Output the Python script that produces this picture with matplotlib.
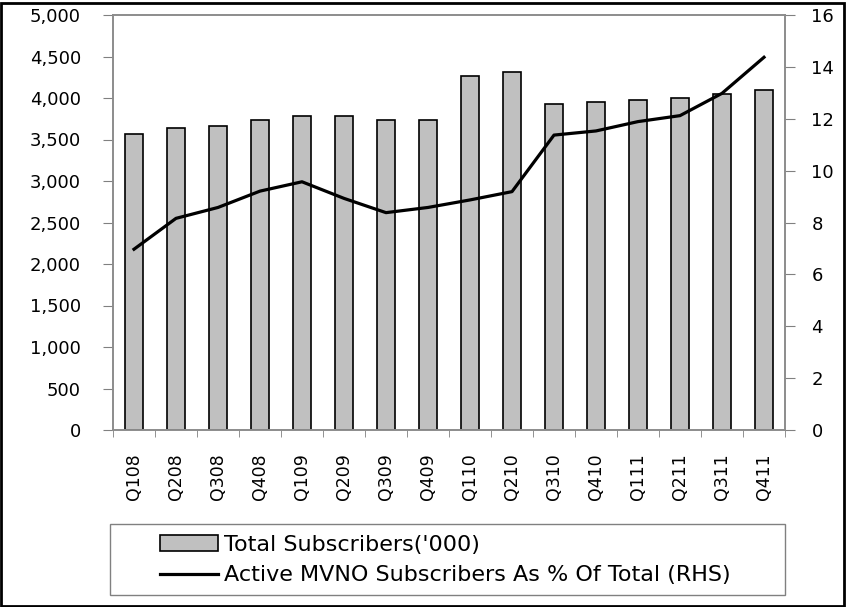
import numpy as np
import matplotlib.pyplot as plt
from matplotlib.patches import Rectangle
from matplotlib.ticker import FuncFormatter

plt.rcParams['font.family'] = ['DejaVu Sans']

quarters = ['Q108', 'Q208', 'Q308', 'Q408', 'Q109', 'Q209', 'Q309', 'Q409',
            'Q110', 'Q210', 'Q310', 'Q410', 'Q111', 'Q211', 'Q311', 'Q411']
total_subs = [3563, 3642, 3663, 3735, 3779, 3779, 3735, 3735,
              4265, 4313, 3924, 3956, 3980, 4000, 4048, 4093]
mvno_pct = [6.97, 8.16, 8.58, 9.21, 9.57, 8.93, 8.38, 8.58,
            8.87, 9.19, 11.37, 11.53, 11.89, 12.12, 12.98, 14.37]

fig = plt.figure(figsize=(8.46, 6.07), dpi=100)
W, H = 846, 607
ax = fig.add_axes([113 / W, 1 - 430 / H, (785 - 113) / W, (430 - 15) / H])
ax2 = ax.twinx()

x = np.arange(len(quarters))
bars = ax.bar(x, total_subs, width=0.45, color='#c0c0c0', edgecolor='black',
              linewidth=1.2, label="Total Subscribers('000)", zorder=2)
line, = ax2.plot(x, mvno_pct, color='black', linewidth=2.3,
                 label='Active MVNO Subscribers As % Of Total (RHS)')

ax.set_xlim(-0.5, len(quarters) - 0.5)
ax.set_ylim(0, 5000)
ax.set_yticks(np.arange(0, 5001, 500))
ax.yaxis.set_major_formatter(FuncFormatter(lambda v, p: f'{int(v):,}'))
ax2.set_ylim(0, 16)
ax2.set_yticks(np.arange(0, 17, 2))

ax.set_xticks(x)
ax.set_xticklabels(quarters, rotation=90, fontsize=12.5)
ax.set_xticks(np.arange(-0.5, len(quarters), 1), minor=True)
ax.tick_params(axis='x', which='major', length=0, pad=17)
ax.tick_params(axis='x', which='minor', length=5, color='#808080', direction='out')
ax.tick_params(axis='y', length=7, color='#808080', labelsize=13, pad=16)
ax2.tick_params(axis='y', length=7, color='#808080', labelsize=13, pad=12)

for a in (ax, ax2):
    for s in a.spines.values():
        s.set_color('#8c8c8c')
        s.set_linewidth(1.2)

# legend box below the plot
fig.add_artist(Rectangle((110 / W, 1 - 595 / H), (785 - 110) / W, (595 - 524) / H,
                         transform=fig.transFigure, fill=False,
                         edgecolor='#808080', linewidth=1.0))
fig.legend([bars, line], [bars.get_label(), line.get_label()],
           loc='center left', bbox_to_anchor=(160 / W, 1 - 560 / H),
           frameon=False, fontsize=16, handlelength=2.6, handletextpad=0.3,
           borderpad=0, borderaxespad=0, labelspacing=0.48)

# outer border of the chart
fig.add_artist(Rectangle((1 / W, 1 / H), 1 - 3 / W, 1 - 4 / H, transform=fig.transFigure,
                         fill=False, edgecolor='black', linewidth=2))

fig.savefig('out.png', dpi=100)
